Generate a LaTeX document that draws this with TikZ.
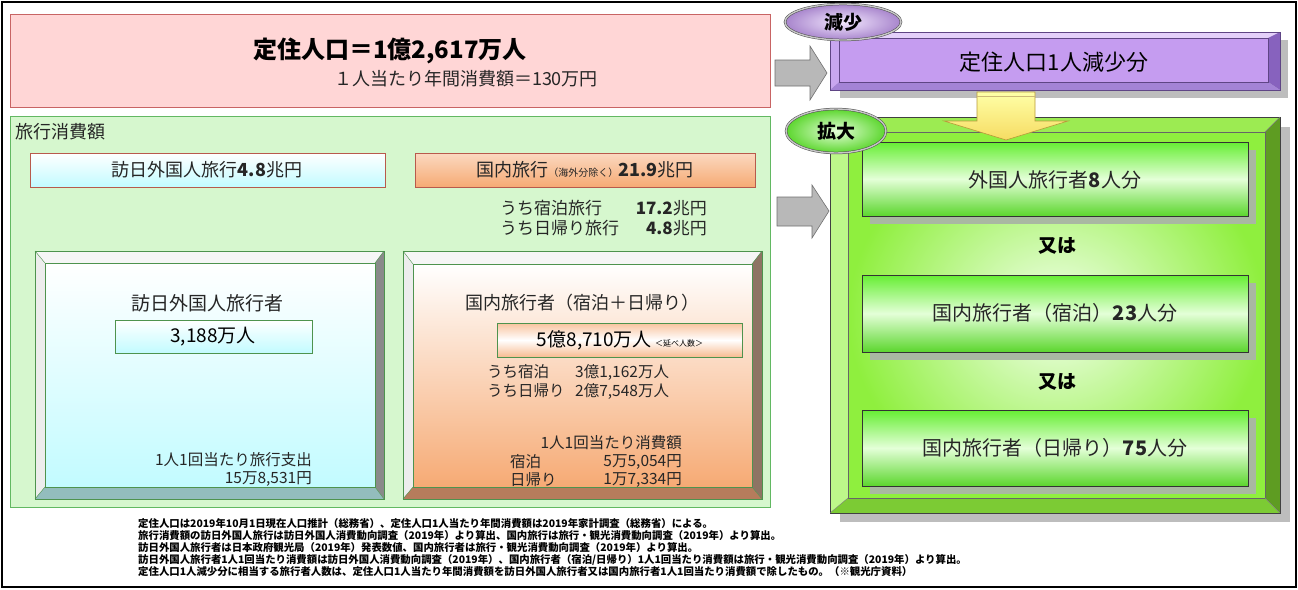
\documentclass[tikz,border=0pt]{standalone}
\usepackage{fontspec}
\setmainfont{Noto Sans CJK JP}
\usetikzlibrary{shapes.geometric,calc}
\definecolor{pinkfill}{HTML}{FFD6D6}
\definecolor{pinkline}{HTML}{C86464}
\definecolor{gpanel}{HTML}{D6F7CE}
\definecolor{gline}{HTML}{62B862}
\definecolor{cyanlt}{HTML}{C2FBFF}
\definecolor{orangelt}{HTML}{F6AA74}
\definecolor{boxred}{HTML}{B85A4C}
\definecolor{agray}{HTML}{B8B8B8}
\definecolor{agrayline}{HTML}{707070}
\definecolor{shadowgray}{HTML}{BDBDBD}
\definecolor{purtop}{HTML}{E4D0FA}
\definecolor{purleft}{HTML}{C8A6F0}
\definecolor{purright}{HTML}{8762BE}
\definecolor{purbot}{HTML}{A483D6}
\definecolor{purA}{HTML}{C59CF0}
\definecolor{purB}{HTML}{F3E8FF}
\definecolor{grtop}{HTML}{9CEB52}
\definecolor{grleft}{HTML}{BDF78A}
\definecolor{grright}{HTML}{5E9C22}
\definecolor{grbot}{HTML}{7CCB34}
\definecolor{grface}{HTML}{8FEF3E}
\definecolor{grcenter}{HTML}{F2FFEC}
\definecolor{gbA}{HTML}{66EE33}
\definecolor{gbB}{HTML}{E4FFD8}
\definecolor{gbshadow}{HTML}{A9B8A2}
\definecolor{yelA}{HTML}{FFFFA8}
\definecolor{yelB}{HTML}{F6DC62}
\definecolor{yelline}{HTML}{B89A3A}
\definecolor{txt}{HTML}{262626}
\definecolor{lbevtop}{HTML}{F6F6F6}
\definecolor{lbevleft}{HTML}{EDEDED}
\definecolor{lbevright}{HTML}{8A8A8A}
\definecolor{bluebot}{HTML}{93BDBD}
\definecolor{orgright}{HTML}{8E7464}
\definecolor{orgbot}{HTML}{B67C5C}
\newcommand\setfs[1]{\fontsize{#1}{#1}\selectfont}
% outer top-left, outer bottom-right, inner top-left, inner bottom-right, colours top,left,right,bottom
\newcommand\bvbox[8]{%
  \fill[#5] (#1) -- (#1 -| #2) -- (#3 -| #4) -- (#3) -- cycle;
  \fill[#6] (#1) -- (#3) -- (#3 |- #4) -- (#1 |- #2) -- cycle;
  \fill[#7] (#1 -| #2) -- (#2) -- (#4) -- (#3 -| #4) -- cycle;
  \fill[#8] (#1 |- #2) -- (#3 |- #4) -- (#4) -- (#2) -- cycle;
}
\tikzset{
  txtnode/.style={inner sep=0pt, text=txt},
  grayarrow/.style={fill=agray, draw=agrayline, line width=0.6pt},
  greenbox/.style={draw=black!80, line width=0.8pt, top color=gbA, bottom color=gbA!90!black, middle color=gbB},
  tagell/.style={ellipse, draw=black!70, line width=0.5pt, double=gray!45, double distance=1.4pt, inner sep=0pt},
  foot/.style={anchor=west, inner sep=0pt, font=\setfs{10.4}\bfseries, text=black}
}
\begin{document}
\begin{tikzpicture}[x=1pt,y=-1pt]
\useasboundingbox (0,0) rectangle (1298,589);
\fill[white] (0,0) rectangle (1298,589);
\draw[line width=2pt] (2,2) rectangle (1296,587);

% ---------- top pink box ----------
\draw[pinkline, fill=pinkfill, line width=0.9pt] (10,14) rectangle (770,107);
\node[txtnode, font=\setfs{24}\bfseries, text=black] (title) at (390,51) {定住人口＝1億2,617万人};
\node[txtnode, font=\setfs{18}] (sub) at (466,79) {１人当たり年間消費額＝130万円};

% ---------- green panel ----------
\draw[gline, fill=gpanel, line width=0.9pt] (10,116) rectangle (770,507);
\node[txtnode, anchor=west, font=\setfs{18}] (ryoko) at (15,132) {旅行消費額};

\draw[boxred, line width=0.9pt, top color=white, bottom color=cyanlt] (30,153) rectangle (385,187);
\node[txtnode, font=\setfs{18}] (inb) at (207,170) {訪日外国人旅行\textbf{4.8}兆円};
\draw[boxred, line width=0.9pt, top color=orangelt!45, bottom color=orangelt] (415,153) rectangle (755,187);
\node[txtnode, font=\setfs{18}] (dom) at (585,170) {国内旅行{\setfs{10}（海外分除く）}\textbf{21.9}兆円};

\node[txtnode, anchor=west, font=\setfs{17}] (s1l) at (500,208) {うち宿泊旅行};
\node[txtnode, anchor=east, font=\setfs{17}] (s1r) at (707,208) {\textbf{17.2}兆円};
\node[txtnode, anchor=west, font=\setfs{17}] (s2l) at (500,228) {うち日帰り旅行};
\node[txtnode, anchor=east, font=\setfs{17}] (s2r) at (707,228) {\textbf{4.8}兆円};

% blue bevel panel
\coordinate (bO1) at (35,251); \coordinate (bO2) at (384,499);
\coordinate (bI1) at (45,263); \coordinate (bI2) at (375,487);
\bvbox{bO1}{bO2}{bI1}{bI2}{lbevtop}{lbevleft}{lbevright}{bluebot}
\shade[top color=white, bottom color=cyanlt] (bI1) rectangle (bI2);
\draw[gline!80!black, line width=0.7pt] (bO1) rectangle (bO2);
\draw[gline!80!black, line width=0.5pt] (bI1) rectangle (bI2);
\draw[gline!80!black, line width=0.4pt] (bO1) -- (bI1) (bO1 -| bO2) -- (bI1 -| bI2) (bO2) -- (bI2) (bO1 |- bO2) -- (bI1 |- bI2);
\node[txtnode, font=\setfs{19}] (vt) at (207,303) {訪日外国人旅行者};
\draw[gline!80!black, line width=0.9pt, top color=white, bottom color=cyanlt] (115,320) rectangle (312,353);
\node[txtnode, font=\setfs{19}, text=black] (vn) at (213,337) {3,188万人};
\node[txtnode, anchor=east, font=\setfs{15.5}] (vs1) at (312,460) {1人1回当たり旅行支出};
\node[txtnode, anchor=east, font=\setfs{15.5}] (vs2) at (312,479) {15万8,531円};

% orange bevel panel
\coordinate (oO1) at (403,251); \coordinate (oO2) at (762,499);
\coordinate (oI1) at (413,264); \coordinate (oI2) at (752,487);
\bvbox{oO1}{oO2}{oI1}{oI2}{lbevtop}{lbevleft}{orgright}{orgbot}
\shade[top color=white, bottom color=orangelt] (oI1) rectangle (oI2);
\draw[gline!80!black, line width=0.7pt] (oO1) rectangle (oO2);
\draw[gline!80!black, line width=0.5pt] (oI1) rectangle (oI2);
\draw[gline!80!black, line width=0.4pt] (oO1) -- (oI1) (oO1 -| oO2) -- (oI1 -| oI2) (oO2) -- (oI2) (oO1 |- oO2) -- (oI1 |- oI2);
\node[txtnode, font=\setfs{18}] (dt) at (582,303) {国内旅行者（宿泊＋日帰り）};
\draw[gline!80!black, line width=0.9pt, top color=orangelt!70, bottom color=orangelt!80, middle color=white] (497,323) rectangle (742,357);
\node[txtnode, font=\setfs{19}, text=black] (dn) at (620,340) {5億8,710万人\,{\setfs{8}＜延べ人数＞}};
\node[txtnode, anchor=west, font=\setfs{15.5}] (d1l) at (487,372) {うち宿泊};
\node[txtnode, anchor=west, font=\setfs{15.5}] (d1r) at (575,372) {3億1,162万人};
\node[txtnode, anchor=west, font=\setfs{15.5}] (d2l) at (487,391) {うち日帰り};
\node[txtnode, anchor=west, font=\setfs{15.5}] (d2r) at (575,391) {2億7,548万人};
\node[txtnode, anchor=east, font=\setfs{15.5}] (d3) at (682,443) {1人1回当たり消費額};
\node[txtnode, anchor=west, font=\setfs{15.5}] (d4l) at (510,462) {宿泊};
\node[txtnode, anchor=east, font=\setfs{15.5}] (d4r) at (682,462) {5万5,054円};
\node[txtnode, anchor=west, font=\setfs{15.5}] (d5l) at (510,480) {日帰り};
\node[txtnode, anchor=east, font=\setfs{15.5}] (d5r) at (682,480) {1万7,334円};

% ---------- grey arrows ----------
\draw[grayarrow] (775,60) -- (810,60) -- (810,46) -- (827,73) -- (810,100) -- (810,86) -- (775,86) -- cycle;
\draw[grayarrow] (777,197) -- (812,197) -- (812,185) -- (829,211) -- (812,238) -- (812,226) -- (777,226) -- cycle;

% ---------- purple bar ----------
\fill[shadowgray] (840,40) rectangle (1288,98);
\coordinate (pO1) at (830,32); \coordinate (pO2) at (1280,90);
\coordinate (pI1) at (839,38); \coordinate (pI2) at (1268,82);
\bvbox{pO1}{pO2}{pI1}{pI2}{purtop}{purleft}{purright}{purbot}
\shade[top color=purA, middle color=purB, bottom color=purA] (pI1) rectangle (pI2);
\draw[purright!70!black, line width=0.6pt] (pO1) rectangle (pO2);
\draw[purright!70!black, line width=0.4pt] (pI1) rectangle (pI2);
\node[txtnode, font=\setfs{22}, text=black] (gen) at (1054,62) {定住人口1人減少分};

% ---------- green big box ----------
\fill[shadowgray] (840,127) rectangle (1290,522);
\coordinate (gO1) at (830,117); \coordinate (gO2) at (1280,513);
\coordinate (gI1) at (848,132); \coordinate (gI2) at (1265,498);
\bvbox{gO1}{gO2}{gI1}{gI2}{grtop}{grleft}{grright}{grbot}
\shade[inner color=grcenter, outer color=grface] (gI1) rectangle (gI2);
\draw[black!75, line width=0.6pt] (gO1) rectangle (gO2);
\draw[black!60, line width=0.5pt] (gI1) rectangle (gI2);
\draw[black!50, line width=0.4pt] (gO1) -- (gI1) (gO1 -| gO2) -- (gI1 -| gI2) (gO2) -- (gI2) (gO1 |- gO2) -- (gI1 |- gI2);

\fill[gbshadow] (870,150) rectangle (1256,224);
\draw[greenbox] (862,142) rectangle (1248,216);
\node[txtnode, font=\setfs{20}] (r1) at (1055,180) {外国人旅行者\textbf{8}人分};
\node[txtnode, font=\setfs{19}\bfseries, text=black] (or1) at (1057,246) {又は};
\fill[gbshadow] (870,283) rectangle (1256,360);
\draw[greenbox] (862,275) rectangle (1248,352);
\node[txtnode, font=\setfs{20}] (r2) at (1055,313) {国内旅行者（宿泊）\textbf{23}人分};
\node[txtnode, font=\setfs{19}\bfseries, text=black] (or2) at (1057,382) {又は};
\fill[gbshadow] (870,418) rectangle (1256,494);
\draw[greenbox] (862,410) rectangle (1248,486);
\node[txtnode, font=\setfs{20}] (r3) at (1055,448) {国内旅行者（日帰り）\textbf{75}人分};

% ---------- yellow arrow ----------
\draw[yelline, line width=0.6pt, top color=yelA, bottom color=yelB] (977,92) -- (1035,92) -- (1035,121) -- (1068,121) -- (1006,140) -- (944,121) -- (977,121) -- cycle;
\draw[yelline!70, line width=0.5pt] (977,96) -- (1035,96);

% ---------- tag ellipses ----------
\node[tagell, minimum width=116pt, minimum height=36pt, inner color=purB, outer color=purA!85!black, font=\setfs{19}\bfseries] (gensho) at (843,22) {減少};
\node[tagell, minimum width=100pt, minimum height=44pt, inner color=gbB, outer color=gbA!90!black, font=\setfs{19}\bfseries] (kakudai) at (836,131) {拡大};

% ---------- footnotes ----------
\node[foot] (f1) at (138,524) {定住人口は2019年10月1日現在人口推計（総務省）、定住人口1人当たり年間消費額は2019年家計調査（総務省）による。};
\node[foot] (f2) at (138,536) {旅行消費額の訪日外国人旅行は訪日外国人消費動向調査（2019年）より算出、国内旅行は旅行・観光消費動向調査（2019年）より算出。};
\node[foot] (f3) at (138,548) {訪日外国人旅行者は日本政府観光局（2019年）発表数値、国内旅行者は旅行・観光消費動向調査（2019年）より算出。};
\node[foot] (f4) at (138,560) {訪日外国人旅行者1人1回当たり消費額は訪日外国人消費動向調査（2019年）、国内旅行者（宿泊/日帰り）1人1回当たり消費額は旅行・観光消費動向調査（2019年）より算出。};
\node[foot] (f5) at (138,572) {定住人口1人減少分に相当する旅行者人数は、定住人口1人当たり年間消費額を訪日外国人旅行者又は国内旅行者1人1回当たり消費額で除したもの。（※観光庁資料）};
\end{tikzpicture}
\end{document}
